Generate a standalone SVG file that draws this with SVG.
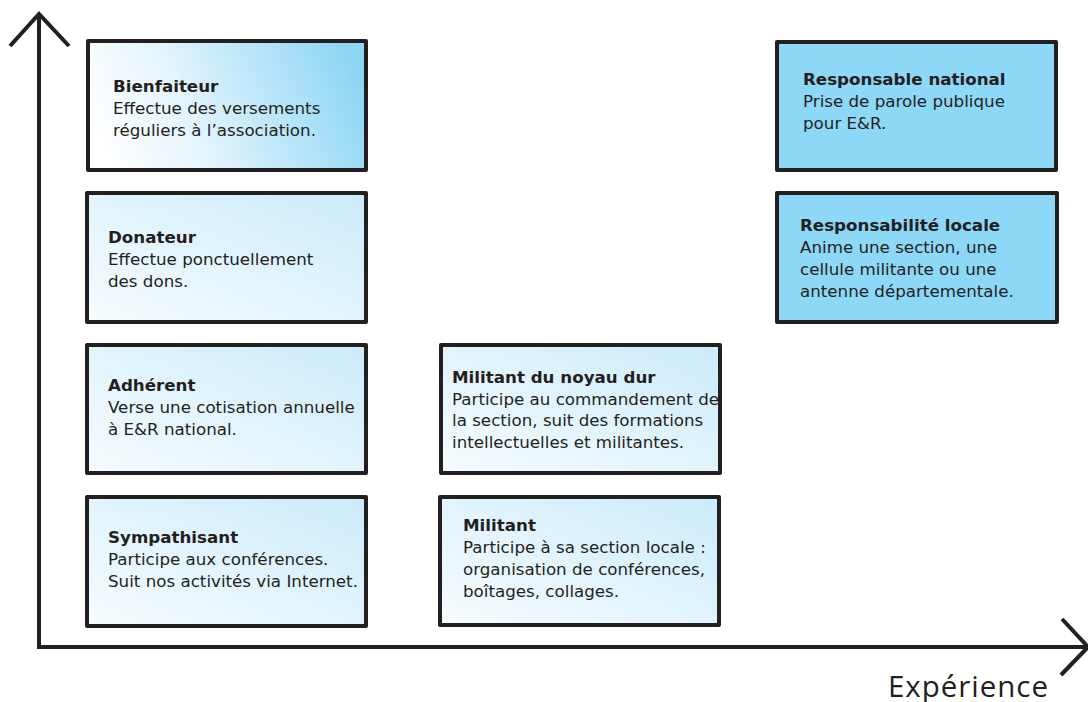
<svg xmlns="http://www.w3.org/2000/svg" width="1088" height="702" viewBox="0 0 1088 702">
<style>
.box{stroke:#231f20;stroke-width:4;stroke-linejoin:round}
.axis{fill:none;stroke:#231f20;stroke-width:4}
text{font-family:"DejaVu Sans","Noto Sans",sans-serif;font-size:16.7px;fill:#231f20}
.t{font-weight:bold}
.lbl{font-family:"Open Sans","Noto Sans",sans-serif;font-size:29.5px}
</style>
<defs>
<linearGradient id="gStrong" x1="0" y1="0.6" x2="1" y2="0.4">
<stop offset="0" stop-color="#ffffff"/>
<stop offset="0.35" stop-color="#e4f4fc"/>
<stop offset="1" stop-color="#8dd6f5"/>
</linearGradient>
<linearGradient id="gLight" x1="0" y1="1" x2="1" y2="0">
<stop offset="0" stop-color="#f7fcfe"/>
<stop offset="1" stop-color="#cbebfa"/>
</linearGradient>
</defs>
<g id="connectors">
<path class="axis" d="M39 647 V14 M10 46 L39 14 L69 46"/>
<path class="axis" d="M37 647 H1087 M1062 619 L1088 647 L1061 675"/>
<text class="lbl" x="888" y="697" textLength="160" lengthAdjust="spacing">Expérience</text>
</g>
<g id="bienfaiteur">
<rect class="box" x="88" y="41" width="278" height="129" fill="url(#gStrong)"/>
<text x="113" y="92"><tspan class="t">Bienfaiteur</tspan><tspan x="113" dy="22">Effectue des versements</tspan><tspan x="113" dy="22">réguliers à l’association.</tspan></text>
</g>
<g id="donateur">
<rect class="box" x="87" y="193" width="279" height="129" fill="url(#gLight)"/>
<text x="108" y="243"><tspan class="t">Donateur</tspan><tspan x="108" dy="22">Effectue ponctuellement</tspan><tspan x="108" dy="22">des dons.</tspan></text>
</g>
<g id="adherent">
<rect class="box" x="87" y="345" width="279" height="128" fill="url(#gLight)"/>
<text x="108" y="391"><tspan class="t">Adhérent</tspan><tspan x="108" dy="22">Verse une cotisation annuelle</tspan><tspan x="108" dy="22">à E&amp;R national.</tspan></text>
</g>
<g id="sympathisant">
<rect class="box" x="87" y="497" width="279" height="129" fill="url(#gLight)"/>
<text x="108" y="543"><tspan class="t">Sympathisant</tspan><tspan x="108" dy="22">Participe aux conférences.</tspan><tspan x="108" dy="22">Suit nos activités via Internet.</tspan></text>
</g>
<g id="militant-noyau-dur">
<rect class="box" x="441" y="345" width="279" height="128" fill="url(#gLight)"/>
<text x="452" y="383"><tspan class="t">Militant du noyau dur</tspan><tspan x="452" dy="21.7">Participe au commandement de</tspan><tspan x="452" dy="21.7">la section, suit des formations</tspan><tspan x="452" dy="21.7">intellectuelles et militantes.</tspan></text>
</g>
<g id="militant">
<rect class="box" x="440" y="497" width="279" height="128" fill="url(#gLight)"/>
<text x="463" y="531"><tspan class="t">Militant</tspan><tspan x="463" dy="22">Participe à sa section locale :</tspan><tspan x="463" dy="22">organisation de conférences,</tspan><tspan x="463" dy="22">boîtages, collages.</tspan></text>
</g>
<g id="responsable-national">
<rect class="box" x="777" y="42" width="279" height="128" fill="#8dd7f7"/>
<text x="803" y="85"><tspan class="t">Responsable national</tspan><tspan x="803" dy="22">Prise de parole publique</tspan><tspan x="803" dy="22">pour E&amp;R.</tspan></text>
</g>
<g id="responsabilite-locale">
<rect class="box" x="777" y="193" width="280" height="129" fill="#8dd7f7"/>
<text x="800" y="231"><tspan class="t">Responsabilité locale</tspan><tspan x="800" dy="22">Anime une section, une</tspan><tspan x="800" dy="22">cellule militante ou une</tspan><tspan x="800" dy="22">antenne départementale.</tspan></text>
</g>
</svg>
